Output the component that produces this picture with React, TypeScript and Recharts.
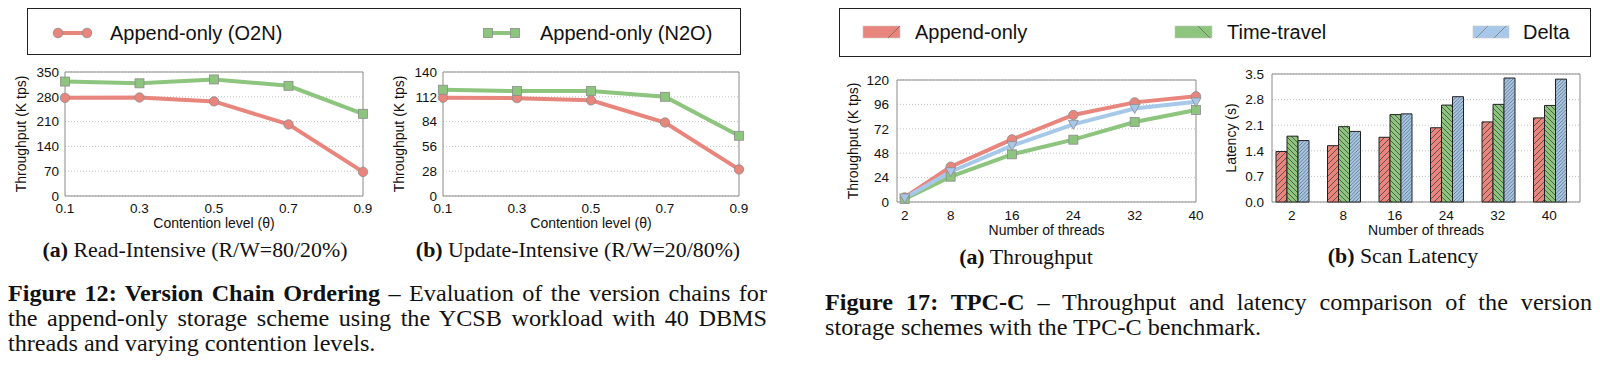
import React from 'react';
import { LineChart, Line, BarChart, Bar, XAxis, YAxis, CartesianGrid } from 'recharts';

const RED = '#e8867e';
const GREEN = '#8dc47e';
const BLUE = '#a7c8e9';
const EDGE = '#8c8c8c';
const FRAME = '#8a8a8a';
const SANS = '"Liberation Sans", Arial, Helvetica, sans-serif';
const SERIF = '"Liberation Serif", "Times New Roman", Times, serif';

// Figure 12 - version chain ordering
const contention = [0.1, 0.3, 0.5, 0.7, 0.9];
const readO2N = [277, 278, 267, 202, 68];
const readN2O = [323, 318, 329, 311, 232];
const updateO2N = [111, 110.5, 108, 83, 30];
const updateN2O = [120, 118.5, 118.5, 112, 68];
const readTicks = [0, 70, 140, 210, 280, 350];
const updateTicks = [0, 28, 56, 84, 112, 140];

// Figure 17 - TPC-C
const threads = [2, 8, 16, 24, 32, 40];
const tputAppend = [4.5, 34.7, 61.6, 85.6, 98, 104];
const tputTime = [3, 24.9, 46.9, 61.3, 78.7, 90.5];
const tputDelta = [4, 29.8, 55.4, 76.4, 92, 98.5];
const tputTicks = [0, 24, 48, 72, 96, 120];
const latAppend = [1.38, 1.54, 1.77, 2.03, 2.19, 2.3];
const latTime = [1.8, 2.06, 2.39, 2.65, 2.67, 2.64];
const latDelta = [1.68, 1.93, 2.41, 2.88, 3.39, 3.36];
const latTicks = [0, 0.7, 1.4, 2.1, 2.8, 3.5];

const readData = contention.map((x, i) => ({ x, o2n: readO2N[i], n2o: readN2O[i] }));
const updateData = contention.map((x, i) => ({ x, o2n: updateO2N[i], n2o: updateN2O[i] }));
const tputData = threads.map((x, i) => ({ x, append: tputAppend[i], time: tputTime[i], delta: tputDelta[i] }));
const latData = threads.map((t, i) => ({ t: String(t), append: latAppend[i], time: latTime[i], delta: latDelta[i] }));

const tickStyle = { fontSize: 13.5, fontFamily: SANS, fill: '#111' };
const labelStyle = { fontSize: 14, fontFamily: SANS, fill: '#111' };

const marker = (shape: string, color: string) => (p: any) => {
  const { cx, cy, index } = p;
  if (cx == null || cy == null) return <g key={index} />;
  if (shape === 'circle')
    return <circle key={index} cx={cx} cy={cy} r={4.7} fill={color} stroke={EDGE} strokeWidth={0.8} />;
  if (shape === 'square')
    return <rect key={index} x={cx - 4.5} y={cy - 4.5} width={9} height={9} fill={color} stroke={EDGE} strokeWidth={0.8} />;
  return (
    <path key={index} d={`M${cx - 5},${cy - 4} L${cx + 5},${cy - 4} L${cx},${cy + 5} Z`} fill={color} stroke={EDGE} strokeWidth={0.8} />
  );
};

const grids = () => [
  <CartesianGrid key="dots" vertical={false} stroke="#c4c4c4" strokeDasharray="1 2" />,
  <CartesianGrid
    key="frame"
    stroke={FRAME}
    horizontalCoordinatesGenerator={({ offset }: any) => [offset.top, offset.top + offset.height]}
    verticalCoordinatesGenerator={({ offset }: any) => [offset.left, offset.left + offset.width]}
  />,
];

function ContentionChart({ data, ticks, max, left, ml, mr }: any) {
  return (
    <div style={{ position: 'absolute', left, top: 60 }}>
      <LineChart width={380} height={180} data={data} margin={{ top: 12, right: mr, bottom: 4, left: ml }}>
        {grids()}
        <XAxis
          type="number"
          dataKey="x"
          domain={[0.1, 0.9]}
          ticks={contention}
          interval={0}
          tickFormatter={(v: number) => v.toFixed(1)}
          axisLine={false}
          tickLine={false}
          tickSize={0}
          tickMargin={7}
          tick={tickStyle}
          height={40}
          label={{ value: 'Contention level (θ)', position: 'insideBottom', offset: 8, style: labelStyle }}
        />
        <YAxis
          domain={[0, max]}
          ticks={ticks}
          interval={0}
          axisLine={false}
          tickLine={false}
          tickSize={0}
          tickMargin={6}
          tick={tickStyle}
          width={45}
          label={{ value: 'Throughput (K tps)', angle: -90, position: 'insideLeft', offset: 1, style: { ...labelStyle, textAnchor: 'middle' } }}
        />
        <Line dataKey="o2n" stroke={RED} strokeWidth={4} dot={marker('circle', RED)} activeDot={false} isAnimationActive={false} />
        <Line dataKey="n2o" stroke={GREEN} strokeWidth={4} dot={marker('square', GREEN)} activeDot={false} isAnimationActive={false} />
      </LineChart>
    </div>
  );
}

function ThroughputChart() {
  return (
    <div style={{ position: 'absolute', left: 820, top: 60 }}>
      <LineChart width={400} height={186} data={tputData} margin={{ top: 20, right: 24, bottom: 4, left: 32 }}>
        {grids()}
        <XAxis
          type="number"
          dataKey="x"
          domain={[1, 40]}
          ticks={threads}
          interval={0}
          axisLine={false}
          tickLine={false}
          tickSize={0}
          tickMargin={8}
          tick={tickStyle}
          height={40}
          label={{ value: 'Number of threads', position: 'insideBottom', offset: 7, style: labelStyle }}
        />
        <YAxis
          domain={[0, 120]}
          ticks={tputTicks}
          interval={0}
          axisLine={false}
          tickLine={false}
          tickSize={0}
          tickMargin={8}
          tick={tickStyle}
          width={45}
          label={{ value: 'Throughput (K tps)', angle: -90, position: 'insideLeft', offset: 1, style: { ...labelStyle, textAnchor: 'middle' } }}
        />
        <Line dataKey="append" stroke={RED} strokeWidth={4} dot={marker('circle', RED)} activeDot={false} isAnimationActive={false} />
        <Line dataKey="time" stroke={GREEN} strokeWidth={4} dot={marker('square', GREEN)} activeDot={false} isAnimationActive={false} />
        <Line dataKey="delta" stroke={BLUE} strokeWidth={4} dot={marker('tri', BLUE)} activeDot={false} isAnimationActive={false} />
      </LineChart>
    </div>
  );
}

function LatencyChart() {
  return (
    <div style={{ position: 'absolute', left: 1210, top: 60 }}>
      <BarChart
        width={390}
        height={186}
        data={latData}
        margin={{ top: 14, right: 20, bottom: 4, left: 20 }}
        barCategoryGap={10}
        barGap={0}
      >
        {grids()}
        <XAxis
          dataKey="t"
          interval={0}
          padding={{ left: -6, right: 5 }}
          axisLine={false}
          tickLine={false}
          tickSize={0}
          tickMargin={8}
          tick={tickStyle}
          height={40}
          label={{ value: 'Number of threads', position: 'insideBottom', offset: 7, style: labelStyle }}
        />
        <YAxis
          domain={[0, 3.5]}
          ticks={latTicks}
          interval={0}
          tickFormatter={(v: number) => v.toFixed(1)}
          axisLine={false}
          tickLine={false}
          tickSize={0}
          tickMargin={8}
          tick={tickStyle}
          width={42}
          label={{ value: 'Latency (s)', angle: -90, position: 'insideLeft', offset: 1, style: { ...labelStyle, textAnchor: 'middle' } }}
        />
        <Bar dataKey="append" fill="url(#hRed)" stroke="#222" strokeWidth={1} isAnimationActive={false} />
        <Bar dataKey="time" fill="url(#hGreen)" stroke="#222" strokeWidth={1} isAnimationActive={false} />
        <Bar dataKey="delta" fill="url(#hBlue)" stroke="#222" strokeWidth={1} isAnimationActive={false} />
      </BarChart>
    </div>
  );
}

const legendText = (left: number, top: number, text: string) => (
  <div style={{ position: 'absolute', left, top: top - 13, height: 26, lineHeight: '26px', fontSize: 20, fontFamily: SANS, color: '#111', whiteSpace: 'nowrap' }}>
    {text}
  </div>
);

function Legends() {
  return (
    <>
      <svg width={0} height={0} style={{ position: 'absolute' }}>
        <defs>
          <pattern id="hRed" patternUnits="userSpaceOnUse" width="6" height="6">
            <rect width="6" height="6" fill={RED} />
            <path d="M0,6 l6,-6 M-1.5,1.5 l3,-3 M4.5,7.5 l3,-3" stroke="#333" strokeWidth="0.7" />
          </pattern>
          <pattern id="hGreen" patternUnits="userSpaceOnUse" width="5" height="5">
            <rect width="5" height="5" fill={GREEN} />
            <path d="M0,0 l5,5 M-1,4 l2,2 M4,-1 l2,2" stroke="#333" strokeWidth="0.7" />
          </pattern>
          <pattern id="hBlue" patternUnits="userSpaceOnUse" width="3.5" height="3.5">
            <rect width="3.5" height="3.5" fill={BLUE} />
            <path d="M0,3.5 l3.5,-3.5 M-1,1 l2,-2 M2.5,4.5 l2,-2" stroke="#444" strokeWidth="0.6" />
          </pattern>
        </defs>
      </svg>
      <div style={{ position: 'absolute', left: 27, top: 8, width: 712, height: 45, border: '1px solid #222' }} />
      <svg style={{ position: 'absolute', left: 0, top: 0 }} width={800} height={60}>
        <line x1={58} y1={33} x2={87} y2={33} stroke={RED} strokeWidth={4} />
        <circle cx={58} cy={33} r={4.8} fill={RED} stroke={EDGE} strokeWidth={0.8} />
        <circle cx={87} cy={33} r={4.8} fill={RED} stroke={EDGE} strokeWidth={0.8} />
        <line x1={488} y1={33} x2={515} y2={33} stroke={GREEN} strokeWidth={4} />
        <rect x={483.5} y={28.5} width={9} height={9} fill={GREEN} stroke={EDGE} strokeWidth={0.8} />
        <rect x={510.5} y={28.5} width={9} height={9} fill={GREEN} stroke={EDGE} strokeWidth={0.8} />
      </svg>
      {legendText(110, 33, 'Append-only (O2N)')}
      {legendText(540, 33, 'Append-only (N2O)')}

      <div style={{ position: 'absolute', left: 839, top: 8, width: 750, height: 47, border: '1px solid #222' }} />
      <svg style={{ position: 'absolute', left: 800, top: 0 }} width={800} height={60}>
        <rect x={63} y={26} width={37} height={12} fill={RED} stroke="#c8c8c8" strokeWidth={0.6} />
        <line x1={88} y1={38} x2={100} y2={26} stroke="#555" strokeWidth={0.6} />
        <rect x={375} y={26} width={37} height={12} fill={GREEN} stroke="#c8c8c8" strokeWidth={0.6} />
        <line x1={398} y1={26} x2={410} y2={38} stroke="#555" strokeWidth={0.6} />
        <rect x={673} y={26} width={36} height={12} fill={BLUE} stroke="#c8c8c8" strokeWidth={0.6} />
        <line x1={676} y1={38} x2={688} y2={26} stroke="#666" strokeWidth={0.6} />
        <line x1={694} y1={38} x2={706} y2={26} stroke="#666" strokeWidth={0.6} />
      </svg>
      {legendText(915, 32, 'Append-only')}
      {legendText(1227, 32, 'Time-travel')}
      {legendText(1523, 32, 'Delta')}
    </>
  );
}

const STRETCH = 1.066;

const sub = (cx: number, cy: number, tag: string, text: string) => (
  <div
    style={{
      position: 'absolute', left: cx - 250, top: cy - 12.5, width: 500, textAlign: 'center', lineHeight: '25px',
      fontSize: 20.5, fontFamily: SERIF, color: '#111', transform: `scaleX(${STRETCH})`, transformOrigin: '50% 50%',
    }}
  >
    <b>{tag}</b> {text}
  </div>
);

const justified: React.CSSProperties = { textAlign: 'justify', textAlignLast: 'justify', whiteSpace: 'nowrap' } as any;

const captionBox = (left: number, top: number, width: number): React.CSSProperties => ({
  position: 'absolute', left, top, width: width / STRETCH, lineHeight: '25px', fontSize: 22.7, fontFamily: SERIF,
  color: '#111', transform: `scaleX(${STRETCH})`, transformOrigin: '0 0',
});

export default function App() {
  return (
    <div style={{ position: 'absolute', left: 0, top: 0, width: 1600, height: 365, background: '#fff', overflow: 'hidden' }}>
      <Legends />
      <ContentionChart data={readData} ticks={readTicks} max={350} left={0} ml={20} mr={17} />
      <ContentionChart data={updateData} ticks={updateTicks} max={140} left={380} ml={18} mr={21} />
      <ThroughputChart />
      <LatencyChart />
      {sub(195, 250, '(a)', 'Read-Intensive (R/W=80/20%)')}
      {sub(578, 250, '(b)', 'Update-Intensive (R/W=20/80%)')}
      {sub(1026, 257, '(a)', 'Throughput')}
      {sub(1403, 256, '(b)', 'Scan Latency')}

      <div style={captionBox(8, 280.5, 759)}>
        <div style={justified}>
          <b>Figure 12: Version Chain Ordering</b> – Evaluation of the version chains for
        </div>
        <div style={justified}>the append-only storage scheme using the YCSB workload with 40 DBMS</div>
        <div style={{ whiteSpace: 'nowrap' }}>threads and varying contention levels.</div>
      </div>
      <div style={captionBox(825, 289.5, 767)}>
        <div style={justified}>
          <b>Figure 17: TPC-C</b> – Throughput and latency comparison of the version
        </div>
        <div style={{ whiteSpace: 'nowrap' }}>storage schemes with the TPC-C benchmark.</div>
      </div>
    </div>
  );
}
